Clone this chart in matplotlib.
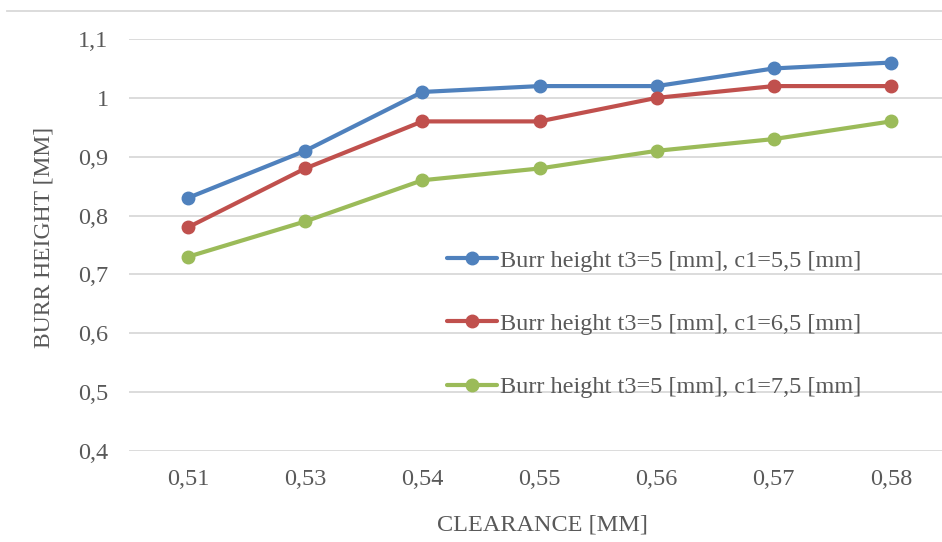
import numpy as np
import matplotlib.pyplot as plt
from matplotlib.lines import Line2D

clearance = ["0,51", "0,53", "0,54", "0,55", "0,56", "0,57", "0,58"]
burr_c1_55 = [0.83, 0.91, 1.01, 1.02, 1.02, 1.05, 1.06]
burr_c1_65 = [0.78, 0.88, 0.96, 0.96, 1.00, 1.02, 1.02]
burr_c1_75 = [0.73, 0.79, 0.86, 0.88, 0.91, 0.93, 0.96]
labels = ["Burr height t3=5 [mm], c1=5,5 [mm]",
          "Burr height t3=5 [mm], c1=6,5 [mm]",
          "Burr height t3=5 [mm], c1=7,5 [mm]"]
colors = ["#4F81BD", "#C0504D", "#9BBB59"]
yticks = [0.4, 0.5, 0.6, 0.7, 0.8, 0.9, 1.0, 1.1]

plt.rcParams["font.family"] = ["Liberation Serif", "DejaVu Serif"]
txt = "#595959"
fs = 17.5

fig = plt.figure(figsize=(9.42, 5.42), dpi=100)
ax = fig.add_axes([129.4 / 942, 91 / 542, (942 - 129.4) / 942, 412 / 542])

x = np.arange(len(clearance))
for vals, lab, c in zip([burr_c1_55, burr_c1_65, burr_c1_75], labels, colors):
    ax.plot(x, vals, color=c, lw=3, marker="o", ms=9, label=lab,
            solid_capstyle="round", clip_on=False, zorder=3)

ax.set_xlim(-0.5, 6.435)
ax.set_ylim(0.4, 1.1)
ax.set_xticks(x)
ax.set_xticklabels(clearance)
ax.set_yticks(yticks)
ax.set_yticklabels(["0,4", "0,5", "0,6", "0,7", "0,8", "0,9", "1", "1,1"])
ax.tick_params(axis="both", length=0, labelsize=fs, colors=txt)
ax.tick_params(axis="y", pad=15)
ax.tick_params(axis="x", pad=13)
ax.grid(axis="y", color="#d9d9d9", lw=1.3)
ax.set_axisbelow(True)
for s in ax.spines.values():
    s.set_visible(False)

fig.text(44 / 942, 1 - 237 / 542, "BURR HEIGHT [MM]", rotation=90,
         ha="center", va="center", fontsize=17, color=txt)
fig.text(542 / 942, 1 - 525 / 542, "CLEARANCE [MM]", ha="center",
         va="center", fontsize=17.5, color=txt)

fig.add_artist(Line2D([7 / 942, 1.0], [1 - 11 / 542] * 2, color="#d9d9d9",
                      lw=1.3, transform=fig.transFigure))

ax.legend(loc="center left", bbox_to_anchor=(447 / 942, 1 - 324 / 542),
          bbox_transform=fig.transFigure, frameon=False, fontsize=fs,
          labelcolor=txt, handlelength=2.05, handletextpad=0.12,
          labelspacing=1.7, borderpad=0, borderaxespad=0)

fig.savefig("out.png", dpi=100)
